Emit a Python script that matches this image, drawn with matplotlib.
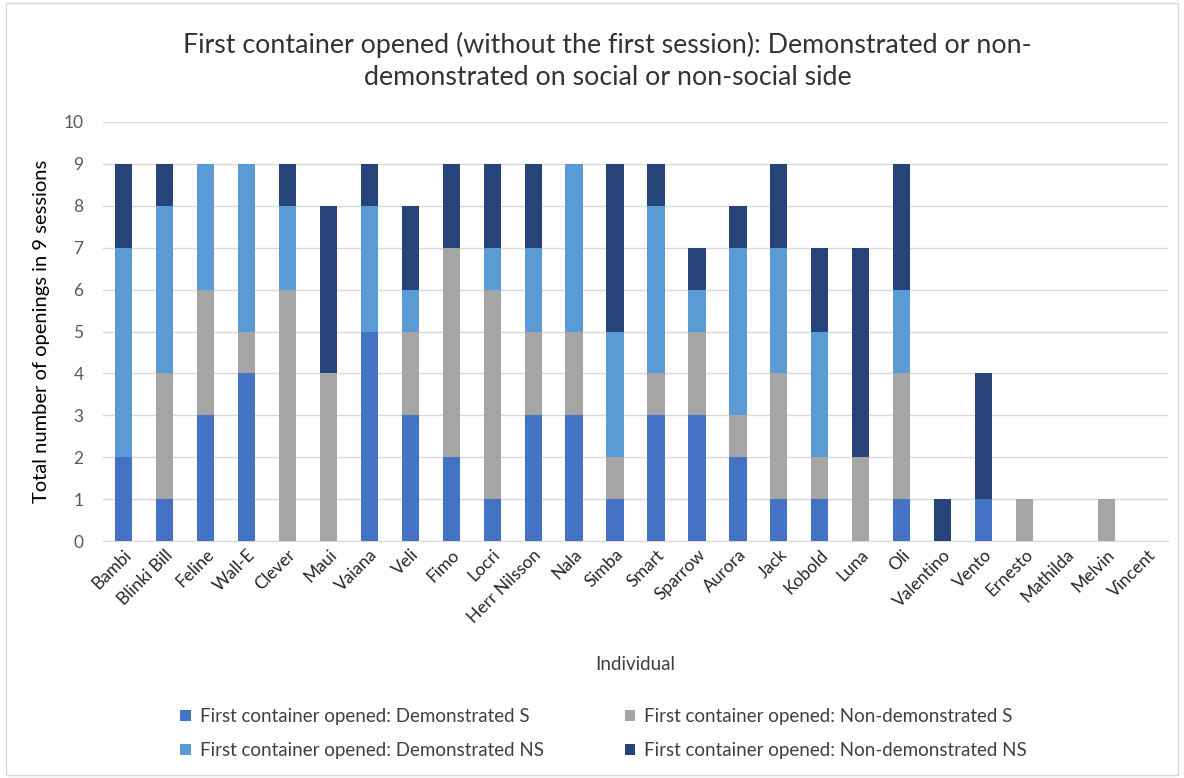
import matplotlib.pyplot as plt
import numpy as np
from matplotlib.patches import Rectangle

plt.rcParams['font.family'] = ['Lato', 'DejaVu Sans']

names = ['Bambi', 'Blinki Bill', 'Feline', 'Wall-E', 'Clever', 'Maui', 'Vaiana',
         'Veli', 'Fimo', 'Locri', 'Herr Nilsson', 'Nala', 'Simba', 'Smart',
         'Sparrow', 'Aurora', 'Jack', 'Kobold', 'Luna', 'Oli', 'Valentino',
         'Vento', 'Ernesto', 'Mathilda', 'Melvin', 'Vincent']

demo_s = [2, 1, 3, 4, 0, 0, 5, 3, 2, 1, 3, 3, 1, 3, 3, 2, 1, 1, 0, 1, 0, 1, 0, 0, 0, 0]
nondemo_s = [0, 3, 3, 1, 6, 4, 0, 2, 5, 5, 2, 2, 1, 1, 2, 1, 3, 1, 2, 3, 0, 0, 1, 0, 1, 0]
demo_ns = [5, 4, 3, 4, 2, 0, 3, 1, 0, 1, 2, 4, 3, 4, 1, 4, 3, 3, 0, 2, 0, 0, 0, 0, 0, 0]
nondemo_ns = [2, 1, 0, 0, 1, 4, 1, 2, 2, 2, 2, 0, 4, 1, 1, 1, 2, 2, 5, 3, 1, 3, 0, 0, 0, 0]

series = [
    ('First container opened: Demonstrated S', demo_s, '#4472C4'),
    ('First container opened: Non-demonstrated S', nondemo_s, '#A5A5A5'),
    ('First container opened: Demonstrated NS', demo_ns, '#5B9BD5'),
    ('First container opened: Non-demonstrated NS', nondemo_ns, '#264478'),
]

fig = plt.figure(figsize=(11.84, 7.78), dpi=100)
ax = fig.add_axes([0.087, 0.3046, 0.8995, 0.5386])

x = np.arange(len(names))
bottom = np.zeros(len(names))
bars = {}
for label, vals, col in series:
    vals = np.array(vals)
    bars[label] = ax.bar(x, vals, bottom=bottom, width=0.42, color=col,
                         label=label, zorder=3)
    bottom += vals

ax.set_xlim(-0.5, len(names) - 0.5)
ax.set_ylim(0, 10)
ax.set_yticks(range(0, 11))
ax.grid(axis='y', color='#D9D9D9', linewidth=1, zorder=0)
for s in ['top', 'right', 'left']:
    ax.spines[s].set_visible(False)
ax.spines['bottom'].set_color('#D9D9D9')
ax.tick_params(length=0, labelsize=12.5)
ax.tick_params(axis='y', pad=14, colors='#595959')
ax.tick_params(axis='x', pad=4, colors='#262626')
ax.set_xticks(x)
ax.set_xticklabels(names, rotation=45, ha='right', rotation_mode='anchor')

ax.set_ylabel('Total number of openings in 9 sessions', fontsize=14.5, color='black',
              labelpad=10)
ax.set_xlabel('Individual', fontsize=13.5, color='#404040', labelpad=22)

fig.text(0.513, 0.942, 'First container opened (without the first session): Demonstrated or non-',
         ha='center', va='center', fontsize=19.3, color='#333333')
fig.text(0.513, 0.901, 'demonstrated on social or non-social side',
         ha='center', va='center', fontsize=19.3, color='#333333')

labels = [s[0] for s in series]
order = [0, 2, 1, 3]
handles = [bars[labels[i]] for i in order]
fig.legend(handles, [labels[i] for i in order], ncol=2, loc='center',
           bbox_to_anchor=(0.51, 0.057), frameon=False, fontsize=13.5,
           handlelength=0.55, handleheight=0.55, handletextpad=0.5,
           columnspacing=4.3, labelspacing=0.9, labelcolor='#404040')

fig.patches.append(Rectangle((0.005, 0.004), 0.99, 0.992, transform=fig.transFigure,
                             fill=False, edgecolor='#D9D9D9', linewidth=1))

fig.savefig('out.png', dpi=100)
